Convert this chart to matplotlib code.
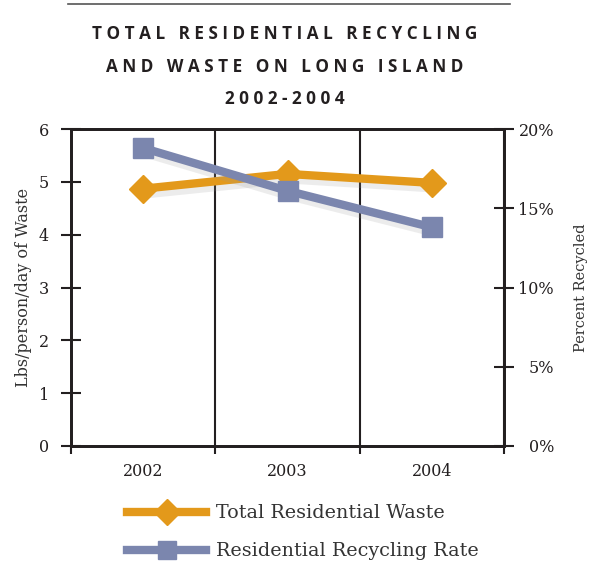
import matplotlib.pyplot as plt
import matplotlib.patheffects as pe
from matplotlib.lines import Line2D

years = ['2002', '2003', '2004']
waste = [4.87, 5.15, 4.98]          # lbs/person/day
recycling = [18.8, 16.1, 13.8]      # percent

orange = '#E3991B'
blue = '#7B86AE'
ink = '#231F20'
serif = 'DejaVu Serif'

fig = plt.figure(figsize=(5.97, 5.72), dpi=100)
ax = fig.add_axes([71 / 597, 1 - 446 / 572, 433 / 597, 317 / 572])
ax2 = ax.twinx()

x = list(range(len(years)))
shadow = [pe.SimpleLineShadow(offset=(2, -4), shadow_color='#999999', alpha=0.18), pe.Normal()]
# lines with a soft drop shadow, markers drawn on top without it
ax.plot(x, waste, color=orange, lw=6, zorder=3, path_effects=shadow)
ax.plot(x, waste, ls='none', color=orange, marker='D', ms=14, zorder=4)
ax2.plot(x, recycling, color=blue, lw=6, zorder=3, path_effects=shadow)
ax2.plot(x, recycling, ls='none', color=blue, marker='s', ms=14, zorder=4)

ax.set_xlim(-0.5, 2.5)
ax.set_ylim(0, 6)
ax2.set_ylim(0, 20)

ax.set_xticks(x)
ax.set_xticklabels(years, fontsize=11.5, family=serif, color=ink)
ax.set_xticks([-0.5, 0.5, 1.5, 2.5], minor=True)
ax.tick_params(axis='x', which='major', length=0, pad=12)
ax.tick_params(axis='x', which='minor', length=6, width=1.5, color=ink, direction='out')
ax.grid(True, axis='x', which='minor', color=ink, lw=1.5)

ax.set_yticks(range(7))
ax.set_yticklabels([str(i) for i in range(7)], fontsize=11.5, family=serif, color=ink)
ax.tick_params(axis='y', length=14, width=1.5, color=ink, direction='inout', pad=9)

ax2.set_yticks(range(0, 21, 5))
ax2.set_yticklabels([f'{v}%' for v in range(0, 21, 5)], fontsize=11.5, family=serif, color=ink, ha='right')
ax2.tick_params(axis='y', length=14, width=1.5, color=ink, direction='inout', pad=29)

for a in (ax, ax2):
    for s in a.spines.values():
        s.set_linewidth(2)
        s.set_color(ink)

ax.set_ylabel('Lbs/person/day of Waste', fontsize=11.5, family=serif, color='#333333', labelpad=5)
ax2.set_ylabel('Percent Recycled', fontsize=10.5, family=serif, color='#333333', labelpad=14.5)

# title block
fig.add_artist(Line2D([68 / 597, 510 / 597], [1 - 4 / 572, 1 - 4 / 572], color='#555555', lw=1.2))
title_lines = ['TOTAL RESIDENTIAL RECYCLING', 'AND WASTE ON LONG ISLAND', '2002-2004']
for i, line in enumerate(title_lines):
    spaced = '   '.join(' '.join(w) for w in line.split(' '))
    fig.text(285 / 597, 1 - (34 + 32.5 * i) / 572, spaced, ha='center', va='center',
             fontsize=12.3, fontweight='bold', family='Open Sans', color=ink)

handles = [
    Line2D([], [], color=orange, lw=6, marker='D', ms=13),
    Line2D([], [], color=blue, lw=6, marker='s', ms=13),
]
fig.legend(handles, ['Total Residential Waste', 'Residential Recycling Rate'],
           loc='upper left', bbox_to_anchor=(110 / 597, 1 - 487 / 572), frameon=False,
           handlelength=4.1, handletextpad=0.55, labelspacing=1.05,
           prop={'family': serif, 'size': 13.8}, labelcolor='#333333')

fig.savefig('out.png', dpi=100)
